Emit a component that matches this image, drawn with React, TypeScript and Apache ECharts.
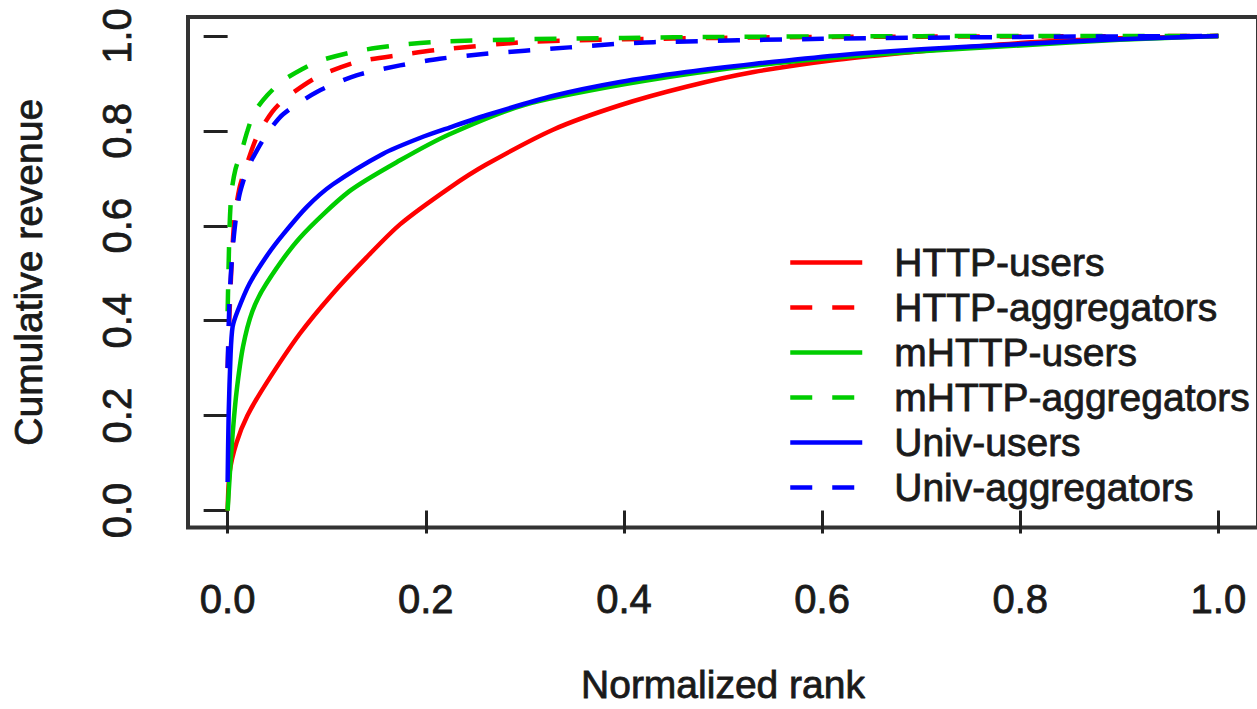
import React, { useEffect, useRef } from "react";
import * as echarts from "echarts";

const seriesNames = [
  "HTTP-users",
  "HTTP-aggregators",
  "mHTTP-users",
  "mHTTP-aggregators",
  "Univ-users",
  "Univ-aggregators",
];
const seriesColors = ["#FF0000", "#FF0000", "#00CD00", "#00CD00", "#0000FF", "#0000FF"];
const seriesDashed = [false, true, false, true, false, true];

const httpUsersX = [0, 0.002, 0.009, 0.02, 0.039, 0.073, 0.106, 0.14, 0.174, 0.224, 0.261, 0.329, 0.396, 0.463, 0.531, 0.615, 0.7, 0.8, 0.9, 1.0];
const httpUsersY = [0.0, 0.08, 0.143, 0.2, 0.268, 0.373, 0.457, 0.533, 0.603, 0.68, 0.729, 0.803, 0.854, 0.893, 0.924, 0.95, 0.968, 0.985, 0.995, 1.0];

const httpAggX = [0, 0.002, 0.004, 0.007, 0.012, 0.017, 0.03, 0.045, 0.058, 0.09, 0.13, 0.174, 0.214, 0.3, 0.4, 0.5, 0.6, 0.8, 1.0];
const httpAggY = [0.3, 0.42, 0.52, 0.617, 0.68, 0.715, 0.79, 0.84, 0.868, 0.913, 0.945, 0.96, 0.971, 0.987, 0.993, 0.996, 0.998, 0.999, 1.0];

const mhttpUsersX = [0, 0.002, 0.005, 0.009, 0.0155, 0.025, 0.039, 0.073, 0.123, 0.174, 0.224, 0.3, 0.4, 0.5, 0.6, 0.7, 0.8, 0.9, 1.0];
const mhttpUsersY = [0, 0.07, 0.16, 0.25, 0.345, 0.42, 0.478, 0.575, 0.673, 0.738, 0.793, 0.855, 0.898, 0.93, 0.952, 0.968, 0.98, 0.992, 1.0];

const mhttpAggX = [0, 0.002, 0.004, 0.008, 0.014, 0.02, 0.027, 0.04, 0.055, 0.075, 0.093, 0.133, 0.174, 0.214, 0.3, 0.4, 0.5, 0.6, 0.8, 1.0];
const mhttpAggY = [0.42, 0.6, 0.673, 0.72, 0.757, 0.8, 0.84, 0.875, 0.905, 0.93, 0.948, 0.969, 0.981, 0.988, 0.993, 0.996, 0.998, 0.999, 1.0, 1.0];

const univUsersX = [0, 0.001, 0.003, 0.005, 0.01, 0.022, 0.04, 0.056, 0.08, 0.106, 0.157, 0.194, 0.224, 0.261, 0.329, 0.396, 0.463, 0.531, 0.615, 0.7, 0.8, 0.9, 1.0];
const univUsersY = [0.06, 0.2, 0.33, 0.387, 0.42, 0.478, 0.538, 0.582, 0.64, 0.687, 0.752, 0.785, 0.807, 0.833, 0.874, 0.903, 0.924, 0.941, 0.959, 0.972, 0.983, 0.993, 1.0];

const univAggX = [0, 0.002, 0.005, 0.008, 0.012, 0.02, 0.029, 0.04, 0.056, 0.09, 0.13, 0.174, 0.214, 0.258, 0.3, 0.345, 0.39, 0.43, 0.6, 0.8, 1.0];
const univAggY = [0.3, 0.45, 0.55, 0.61, 0.666, 0.72, 0.757, 0.795, 0.835, 0.882, 0.917, 0.938, 0.952, 0.962, 0.969, 0.976, 0.983, 0.987, 0.994, 0.998, 1.0];

const allX = [httpUsersX, httpAggX, mhttpUsersX, mhttpAggX, univUsersX, univAggX];
const allY = [httpUsersY, httpAggY, mhttpUsersY, mhttpAggY, univUsersY, univAggY];

const tickValues = [0, 0.2, 0.4, 0.6, 0.8, 1.0];

const FONT = "'Liberation Sans', Arial, Helvetica, sans-serif";
const TEXT = {
  color: "#1a1a1a",
  fontFamily: FONT,
  textBorderColor: "#1a1a1a",
  textBorderWidth: 0.8,
};

export default function App() {
  const ref = useRef<HTMLDivElement>(null);
  useEffect(() => {
    if (!ref.current) return;
    const chart = echarts.init(ref.current, null, { renderer: "svg" });
    const series = seriesNames.map((name, i) => ({
      name,
      type: "line",
      data: allX[i].map((x, j) => [x, allY[i][j]]),
      symbol: "none",
      smooth: 0.25,
      lineStyle: {
        color: seriesColors[i],
        width: 4.5,
        type: seriesDashed[i] ? [22, 20] : "solid",
        cap: "butt",
      },
      itemStyle: { color: seriesColors[i] },
      z: 2 + i,
    }));
    chart.setOption({
      animation: false,
      backgroundColor: "#ffffff",
      textStyle: { fontFamily: FONT },
      grid: {
        left: 188,
        top: 17,
        width: 1070,
        height: 515,
        show: true,
        borderColor: "#333",
        borderWidth: 4,
        backgroundColor: "transparent",
      },
      xAxis: {
        type: "value",
        min: -0.04,
        max: 1.04,
        name: "Normalized rank",
        nameLocation: "middle",
        nameGap: 137,
        nameTextStyle: { fontSize: 39, ...TEXT },
        axisLine: { show: false },
        splitLine: { show: false },
        axisTick: {
          show: true,
          length: 23,
          lineStyle: { color: "#222", width: 3 },
          customValues: tickValues,
        },
        axisLabel: {
          show: true,
          margin: 51,
          fontSize: 40,
          ...TEXT,
          customValues: tickValues,
          formatter: (v: number) => v.toFixed(1),
        },
      },
      yAxis: {
        type: "value",
        min: -0.036,
        max: 1.04,
        name: "Cumulative revenue",
        nameLocation: "middle",
        nameGap: 140,
        nameTextStyle: { fontSize: 39, ...TEXT },
        axisLine: { show: false },
        splitLine: { show: false },
        axisTick: {
          show: true,
          length: 24,
          lineStyle: { color: "#222", width: 3 },
          customValues: tickValues,
        },
        axisLabel: {
          show: true,
          margin: 51,
          rotate: 90,
          fontSize: 40,
          ...TEXT,
          customValues: tickValues,
          formatter: (v: number) => v.toFixed(1),
        },
      },
      legend: {
        show: true,
        orient: "vertical",
        left: 788,
        top: 240,
        itemWidth: 72,
        itemHeight: 2,
        itemGap: 0,
        padding: 0,
        lineStyle: { width: 4.5 },
        itemStyle: { opacity: 0 },
        textStyle: {
          fontSize: 39,
          lineHeight: 45,
          ...TEXT,
          padding: [0, 0, 0, 27],
        },
        data: seriesNames,
      },
      series,
    });
    return () => chart.dispose();
  }, []);
  return (
    <div
      style={{
        position: "fixed",
        left: 0,
        top: 0,
        width: 1257,
        height: 709,
        overflow: "hidden",
        background: "#fff",
      }}
    >
      <div ref={ref} style={{ width: 1290, height: 709 }} />
    </div>
  );
}
